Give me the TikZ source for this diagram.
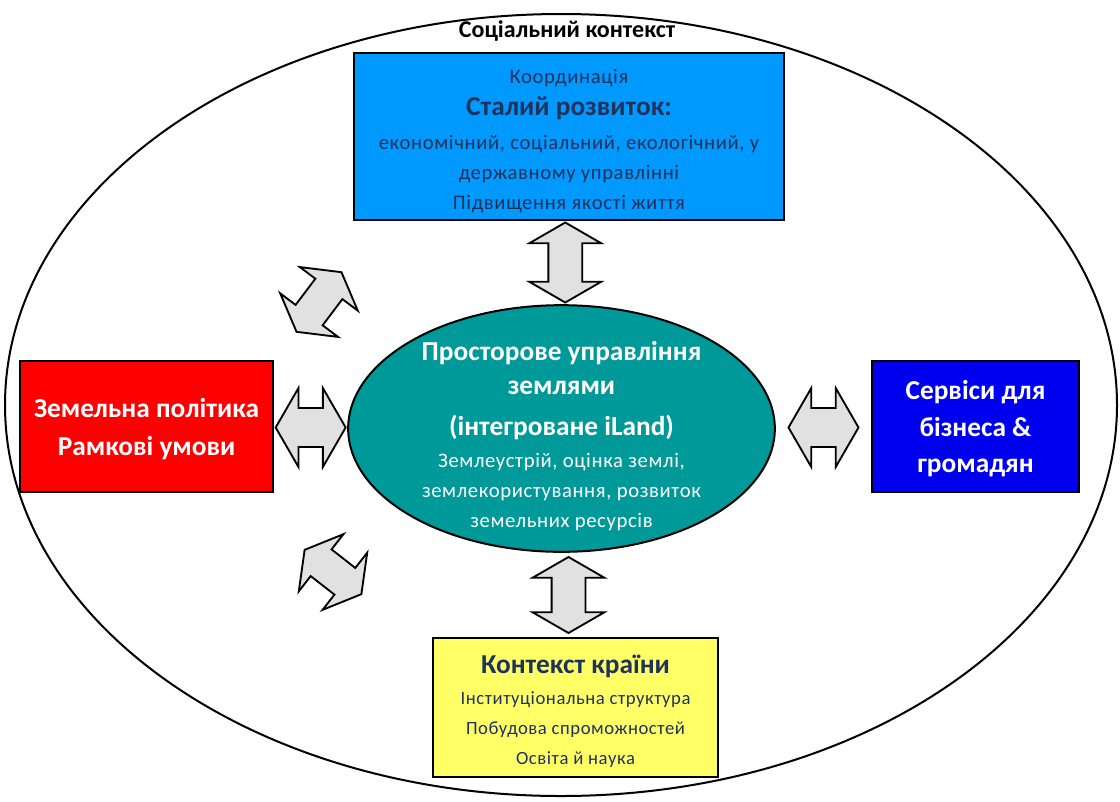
\documentclass[tikz,border=0pt]{standalone}
\usepackage{fontspec}
\setmainfont{Carlito}
\usepackage{tikz}
\usetikzlibrary{shapes.geometric, shapes.arrows, calc}

\definecolor{goalblue}{RGB}{0,153,255}
\definecolor{landteal}{RGB}{0,153,153}
\definecolor{policyred}{RGB}{255,0,0}
\definecolor{serviceblue}{RGB}{0,0,240}
\definecolor{countryyellow}{RGB}{255,255,102}
\definecolor{textnavy}{RGB}{30,50,92}
\definecolor{arrowgray}{RGB}{225,225,225}

\newcommand{\headline}[1]{{\normalfont\bfseries\fontsize{20.5}{24}\selectfont #1}}

\begin{document}
\begin{tikzpicture}[
      x=0.75pt, y=-0.75pt,
      box/.style={draw, line width=1.5pt, inner sep=0pt, align=center},
      body/.style={font=\fontsize{15.5}{22.5}\selectfont\addfontfeature{LetterSpace=3}},
      smallbody/.style={font=\fontsize{14}{22.5}\selectfont\addfontfeature{LetterSpace=3}},
      bighead/.style={font=\bfseries\fontsize{20.5}{27}\selectfont},
      dbl/.style={double arrow, draw, line width=1.4pt, fill=arrowgray, inner xsep=0pt,
        minimum width=0pt, double arrow tip angle=120}
    ]
    \useasboundingbox (0,0) rectangle (1120,801);

    % social context
    \node[draw, ellipse, line width=1.5pt, inner sep=0pt, minimum width=834pt, minimum height=586.5pt] (society) at (561,405) {};
    \node[font=\bfseries\fontsize{18}{20}\selectfont] (societytitle) at (567,31) {Соціальний контекст};

    % boxes
    \node[box, fill=goalblue, text=textnavy, body, minimum width=322.5pt, minimum height=125pt] (goal) at (569,136.5)
      {\rule{0pt}{18pt}Координація\\[1.5pt]
       \headline{Сталий розвиток:}\\[3pt]
       економічний, соціальний, екологічний, у\\
       державному управлінні\\
       Підвищення якості життя};
    \node[box, ellipse, fill=landteal, text=white, body, inner ysep=-15pt, minimum width=320pt, minimum height=185pt] (land) at (561.5,428.5)
      {\rule{0pt}{26pt}\headline{Просторове управління}\\[3pt]
       \headline{землями}\\[8pt]
       \headline{(інтегроване iLand)}\\[2pt]
       Землеустрій, оцінка землі,\\
       землекористування, розвиток\\
       земельних ресурсів};
    \node[box, fill=policyred, text=white, bighead, minimum width=190pt, minimum height=98pt] (policy) at (146.5,426.5)
      {\rule{0pt}{18.7pt}Земельна політика\\[1.5pt] Рамкові умови};
    \node[box, fill=serviceblue, text=white, bighead, minimum width=155pt, minimum height=98pt] (services) at (975.5,426.5)
      {\rule{0pt}{18pt}Сервіси для\\[0.5pt] бізнеса \&\\[0.5pt] громадян};
    \node[box, fill=countryyellow, text=textnavy, smallbody, minimum width=214pt, minimum height=104pt] (country) at (575.5,707.5)
      {\rule{0pt}{19.4pt}\headline{Контекст країни}\\[0.75pt]
       Інституціональна структура\\
       Побудова спроможностей\\
       Освіта й наука};

    % double arrows
    \node[dbl, rotate=90, minimum height=60pt, inner ysep=12pt, double arrow head extend=14.25pt] (goalarrow) at ($(goal.south)!0.5!(land.north)$) {};
    \node[dbl, rotate=90, minimum height=57pt, inner ysep=12pt, double arrow head extend=14.25pt] (countryarrow) at ($(land.south)!0.5!(country.north)$) {};
    \node[dbl, minimum height=52.5pt, inner ysep=13.9pt, double arrow head extend=15pt] (policyarrow) at ($(policy.east)!0.5!(land.west)$) {};
    \node[dbl, minimum height=52.5pt, inner ysep=13.9pt, double arrow head extend=15pt] (servicearrow) at ($(land.east)!0.5!(services.west)$) {};
    \node[dbl, rotate=53, minimum height=56pt, inner ysep=12pt, double arrow head extend=14.5pt] (upperarrow) at (319,302) {};
    \node[dbl, rotate=-38, minimum height=54pt, inner ysep=12pt, double arrow head extend=14.5pt] (lowerarrow) at (333,572) {};
  \end{tikzpicture}
\end{document}
